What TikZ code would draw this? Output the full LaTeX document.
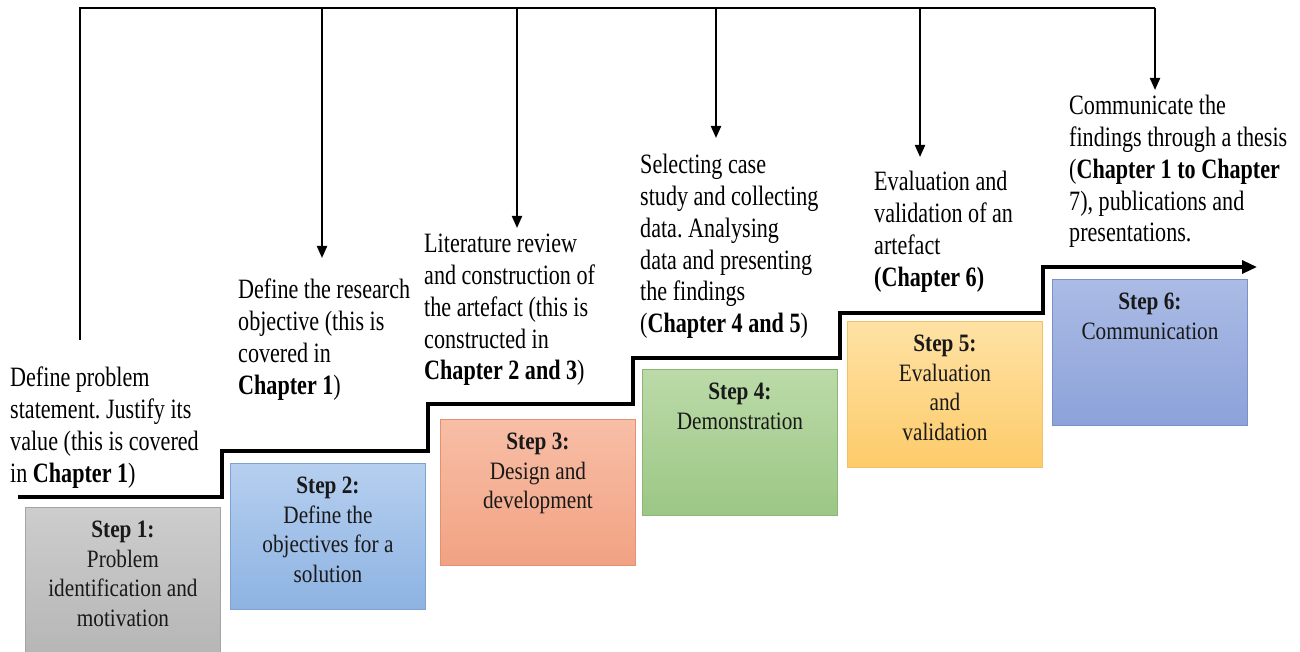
\documentclass[tikz,border=0pt]{standalone}
\usepackage{fontspec}
\setmainfont{Liberation Serif}
\newfontfamily\annfont{Liberation Serif}[FakeStretch=0.79]
\newfontfamily\boxfont{Liberation Serif}[FakeStretch=0.85]
\usetikzlibrary{arrows.meta}
\frenchspacing

\definecolor{grayT}{HTML}{CDCDCD}\definecolor{grayB}{HTML}{B6B6B6}\definecolor{grayE}{HTML}{A4A4A4}
\definecolor{blueT}{HTML}{B6CFEF}\definecolor{blueB}{HTML}{8DB3E2}\definecolor{blueE}{HTML}{7FA2CF}
\definecolor{salT}{HTML}{F7BEA6}\definecolor{salB}{HTML}{F2A283}\definecolor{salE}{HTML}{E29272}
\definecolor{grnT}{HTML}{BBDAA8}\definecolor{grnB}{HTML}{9CC785}\definecolor{grnE}{HTML}{8BB676}
\definecolor{ylwT}{HTML}{FEE2A4}\definecolor{ylwB}{HTML}{FDCB6A}\definecolor{ylwE}{HTML}{F0C266}
\definecolor{vioT}{HTML}{ABBBE5}\definecolor{vioB}{HTML}{8CA2D9}\definecolor{vioE}{HTML}{7A90C8}

\tikzset{
  stepbox/.style={rectangle, inner sep=0pt, minimum width=195pt, minimum height=146pt,
                  line width=0.9pt, anchor=north west},
  steptext/.style={anchor=north, inner sep=0pt, align=center, text=black!90,
                   font=\boxfont\fontsize{25}{29.5}\selectfont},
  note/.style={anchor=north west, inner sep=0pt, align=left,
               font=\annfont\fontsize{28}{31.8}\selectfont},
  bus/.style={line width=2.6pt},
  busarrow/.style={line width=2.1pt, -{Triangle[width=10pt,length=12pt]}},
  stair/.style={line width=3.2pt, -{Triangle[width=13pt,length=15pt]}}
}

\begin{document}
\begin{tikzpicture}[x=1pt,y=-1pt]
\useasboundingbox (0,0) rectangle (1300,652);

% step boxes
\node[stepbox, draw=grayE, top color=grayT, bottom color=grayB] (s1) at (25,507) {};
\node[stepbox, draw=blueE, top color=blueT, bottom color=blueB] (s2) at (230,463) {};
\node[stepbox, draw=salE,  top color=salT,  bottom color=salB]  (s3) at (440,419) {};
\node[stepbox, draw=grnE,  top color=grnT,  bottom color=grnB]  (s4) at (642,369) {};
\node[stepbox, draw=ylwE,  top color=ylwT,  bottom color=ylwB]  (s5) at (847,321) {};
\node[stepbox, draw=vioE,  top color=vioT,  bottom color=vioB]  (s6) at (1052,279) {};

\node[steptext] (t1) at ([yshift=-14pt]s1.north) {\textbf{Step 1:}\\Problem\\identification and\\motivation};
\node[steptext] (t2) at ([yshift=-14pt]s2.north) {\textbf{Step 2:}\\Define the\\objectives for a\\solution};
\node[steptext] (t3) at ([yshift=-14pt]s3.north) {\textbf{Step 3:}\\Design and\\development};
\node[steptext] (t4) at ([yshift=-14pt]s4.north) {\textbf{Step 4:}\\Demonstration};
\node[steptext] (t5) at ([yshift=-14pt]s5.north) {\textbf{Step 5:}\\Evaluation\\and\\validation};
\node[steptext] (t6) at ([yshift=-14pt]s6.north) {\textbf{Step 6:}\\Communication};

% staircase with arrow
\coordinate (st0) at (18,497);
\coordinate (st1) at (222,451);
\coordinate (st2) at (428,404);
\coordinate (st3) at (633,358);
\coordinate (st4) at (840,313);
\coordinate (st5) at (1043,267);
\coordinate (stEnd) at (1257,267);
\draw[stair] (st0) -| (st1) -| (st2) -| (st3) -| (st4) -| (st5) -- (stEnd);

% annotations
\node[note] (n1) at (10,367) {Define problem\\statement. Justify its\\value (this is covered\\in \textbf{Chapter 1})};
\node[note] (n2) at (238,279) {Define the research\\objective (this is\\covered in\\\textbf{Chapter 1})};
\node[note] (n3) at (424,234) {Literature review\\and construction of\\the artefact (this is\\constructed in\\\textbf{Chapter 2 and 3})};
\node[note] (n4) at (640,154) {Selecting case\\study and collecting\\data. Analysing\\data and presenting\\the findings\\(\textbf{Chapter 4 and 5})};
\node[note] (n5) at (874,171) {Evaluation and\\validation of an\\artefact\\\textbf{(Chapter 6)}};
\node[note] (n6) at (1069,95) {Communicate the\\findings through a thesis\\(\textbf{Chapter 1 to Chapter}\\7), publications and\\presentations.};

% distribution bus
\coordinate (b0) at (80,340);
\coordinate (bL) at (80,8);
\coordinate (b2) at (322,8);
\coordinate (b3) at (517,8);
\coordinate (b4) at (716,8);
\coordinate (b5) at (920,8);
\coordinate (b6) at (1155,8);
\coordinate (a2) at (322,258);
\coordinate (a3) at (517,228);
\coordinate (a4) at (716,138);
\coordinate (a5) at (920,157);
\coordinate (a6) at (1155,90);
\draw[bus, line join=miter] (b0) -- (bL) -- (b6);
\draw[busarrow] (b2) -- (a2);
\draw[busarrow] (b3) -- (a3);
\draw[busarrow] (b4) -- (a4);
\draw[busarrow] (b5) -- (a5);
\draw[busarrow] (b6) -- (a6);
\end{tikzpicture}
\end{document}
